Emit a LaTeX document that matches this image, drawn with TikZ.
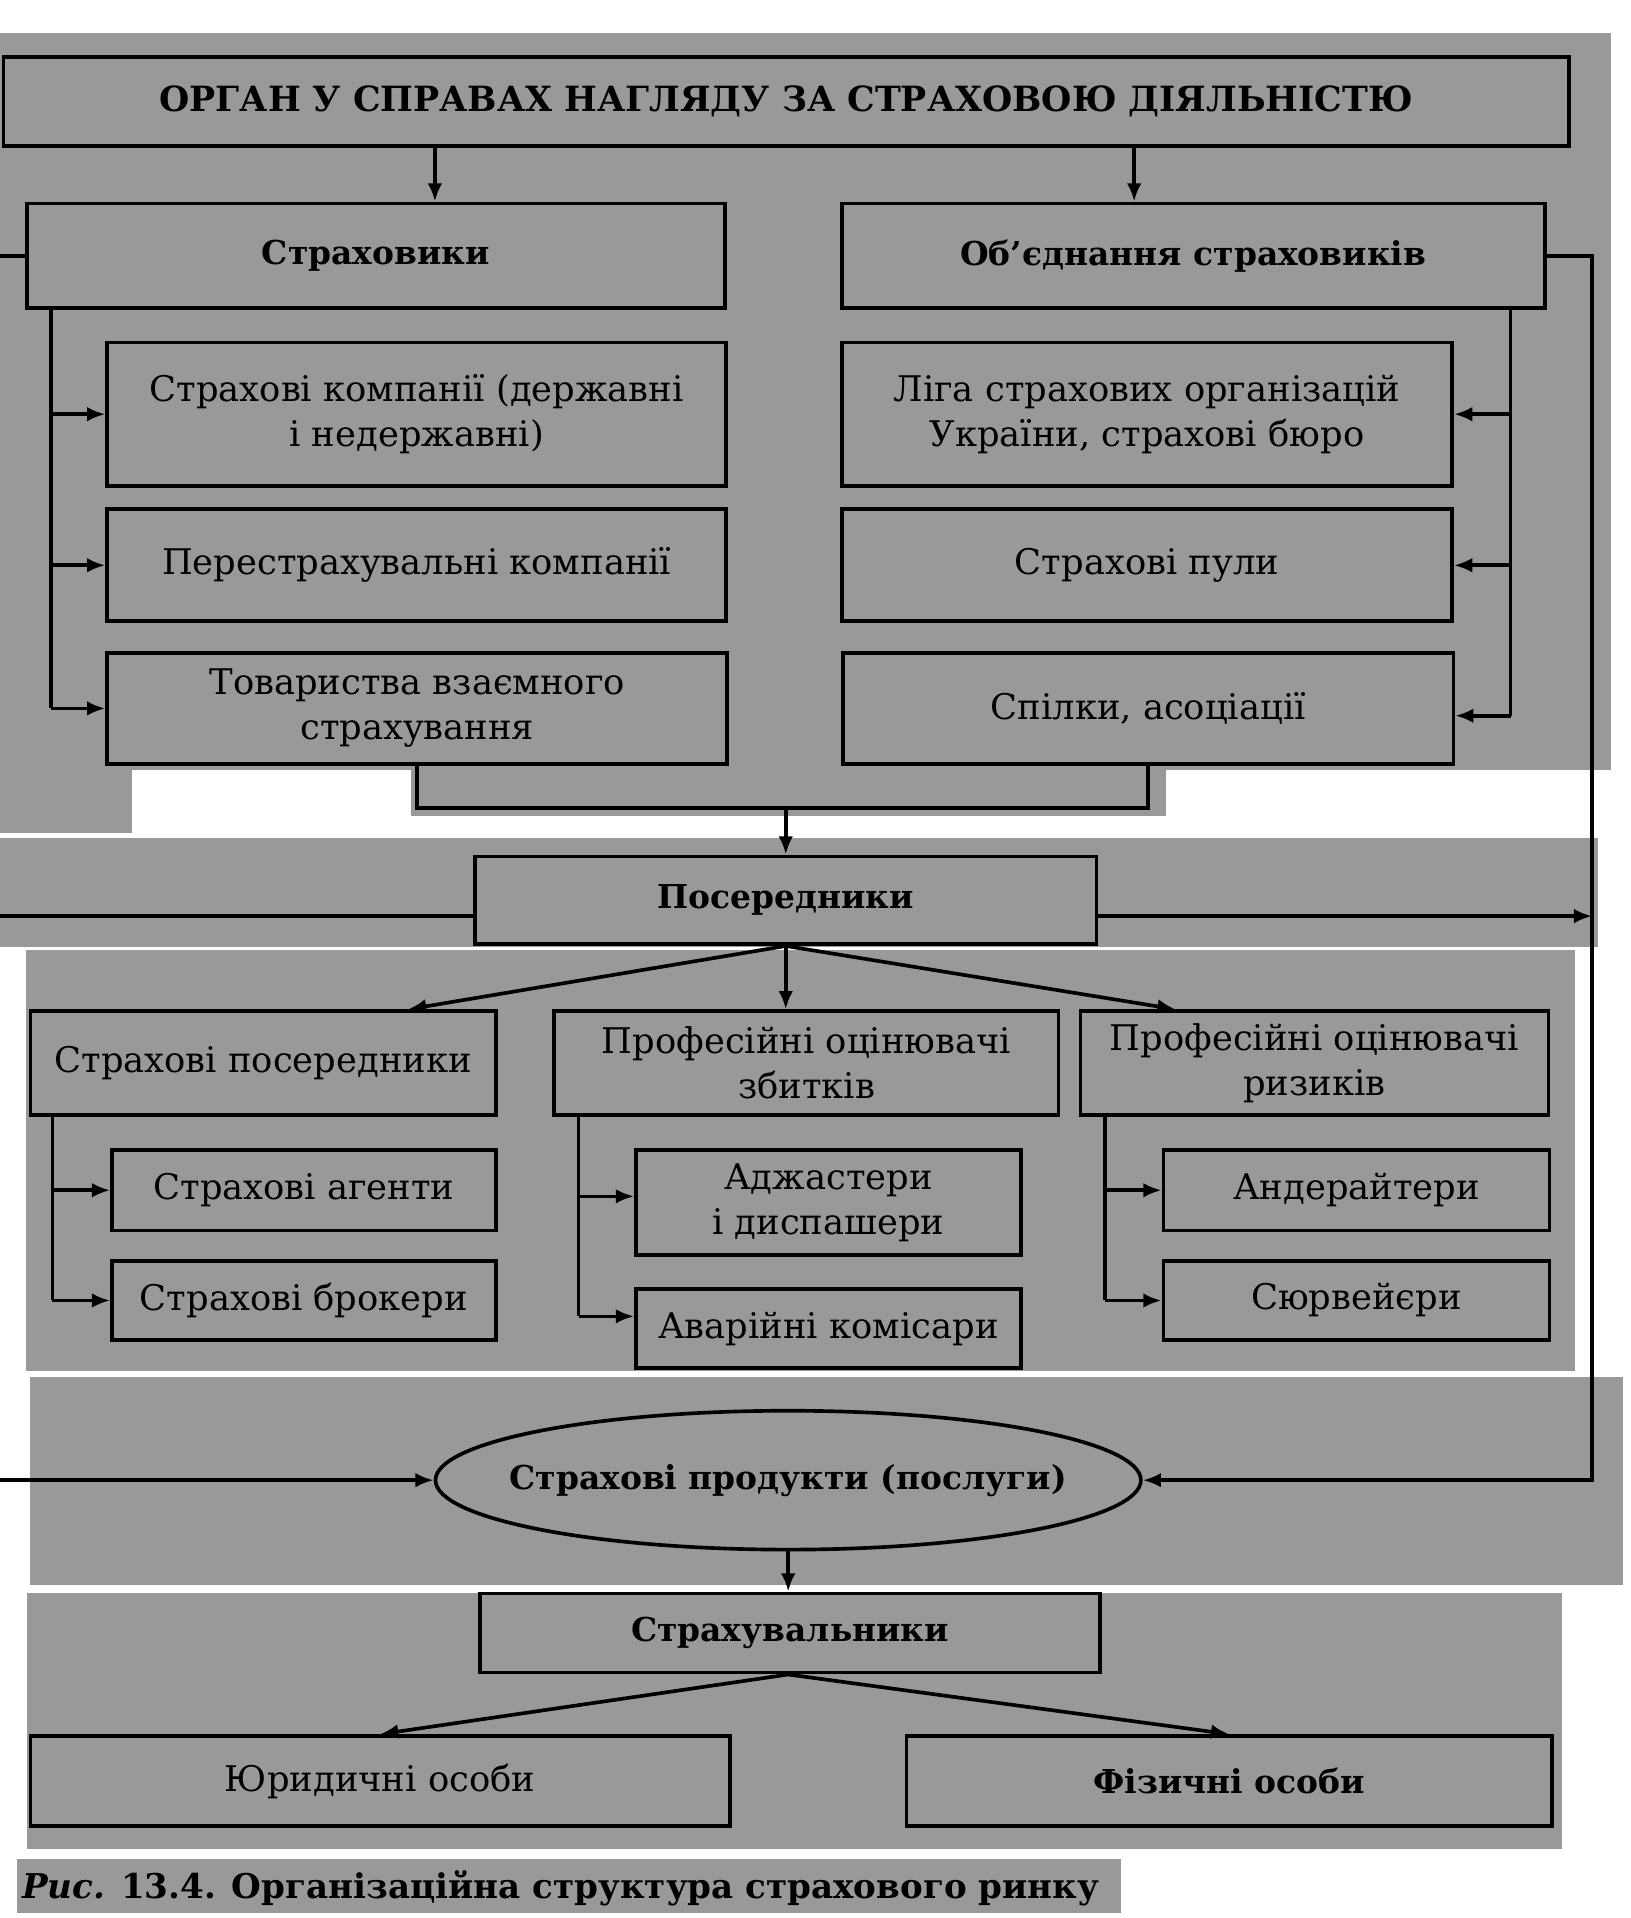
\documentclass[tikz,border=0pt]{standalone}
\usepackage{fontspec}
\setmainfont{DejaVu Serif}
\usetikzlibrary{arrows.meta,shapes.geometric,calc}
\definecolor{scan}{gray}{0.6}
\newcommand\rgf{\fontsize{29}{37}\selectfont}
\newcommand\bdf{\fontsize{27}{37}\selectfont\bfseries}
\newcommand\ttlf{\fontsize{28.5}{32}\selectfont\bfseries}
\newcommand\capf{\fontsize{28}{32}\selectfont\bfseries}
\begin{document}
\begin{tikzpicture}[x=1pt,y=-1pt,
  bx/.style 2 args={draw,line width=3pt,inner sep=0pt,minimum width=#1,minimum height=#2,align=center,font=\rgf},
  hd/.style={font=\bdf},
  ln/.style={line width=3pt},
  ar/.style={line width=3pt,-{Latex[length=15pt,width=12pt]}}]
\useasboundingbox (0,0) rectangle (1338,1574.4);
% scanned grey panels
\fill[scan] (0,27) rectangle (1322,632);
\fill[scan] (0,632) rectangle (108,684);
\fill[scan] (337,632) rectangle (957,670);
\fill[scan] (0,688) rectangle (1312,777);
\fill[scan] (21,780) rectangle (1293,1125);
\fill[scan] (25,1130) rectangle (1332,1301);
\fill[scan] (22,1308) rectangle (1282,1518);
\fill[scan] (14,1526) rectangle (920,1570);
% nodes
\node[bx={1285}{73},font=\ttlf] (top) at (645.5,83.5) {ОРГАН У СПРАВАХ НАГЛЯДУ ЗА СТРАХОВОЮ ДІЯЛЬНІСТЮ};
\node[bx={573}{86},hd] (strah) at (308.5,210) {Страховики};
\node[bx={577}{86},hd] (obyed) at (979.5,210) {Об’єднання страховиків};
\node[bx={508}{118}] (komp) at (342,340) {Страхові компанії (державні\\і недержавні)};
\node[bx={508}{92}] (perestr) at (342,464) {Перестрахувальні компанії};
\node[bx={509}{91}] (tovar) at (342.5,581.5) {Товариства взаємного\\страхування};
\node[bx={501}{118}] (liga) at (941.5,340) {Ліга страхових організацій\\України, страхові бюро};
\node[bx={501}{92}] (puly) at (941.5,464) {Страхові пули};
\node[bx={501}{91}] (spilky) at (942.5,581.5) {Спілки, асоціації};
\node[bx={510}{72},hd] (poser) at (645,739) {Посередники};
\node[bx={382}{85}] (sposer) at (216,872.5) {Страхові посередники};
\node[bx={414}{85}] (zbyt) at (662,872.5) {Професійні оцінювачі\\збитків};
\node[bx={384}{85}] (ryz) at (1079,872.5) {Професійні оцінювачі\\ризиків};
\node[bx={315}{66}] (agent) at (249.5,977) {Страхові агенти};
\node[bx={315}{65}] (broker) at (249.5,1067.5) {Страхові брокери};
\node[bx={316}{86}] (adzh) at (680,987) {Аджастери\\і диспашери};
\node[bx={316}{65}] (avar) at (680,1090.5) {Аварійні комісари};
\node[bx={317}{66}] (ander) at (1113.5,977) {Андерайтери};
\node[bx={317}{65}] (surv) at (1113.5,1067.5) {Сюрвейєри};
\node[draw,ellipse,line width=3pt,inner sep=0pt,minimum width=579,minimum height=114] (ell) at (647,1215) {};
\node[font=\bdf,inner sep=0pt] (elltext) at (ell.center) {Страхові продукти (послуги)};
\node[bx={509}{65},hd] (strahuv) at (648.5,1340.5) {Страхувальники};
\node[bx={574}{74}] (yur) at (312,1462) {Юридичні особи};
\node[bx={530}{74},hd] (fiz) at (1009,1462) {Фізичні особи};
\node[anchor=base west,inner sep=0pt,font=\capf] (cap) at (18,1558) {\textit{Рис.} 13.4. Організаційна структура страхового ринку};
% helper coordinates
\coordinate (xa) at (357,0);
\coordinate (xb) at (931,0);
\coordinate (L) at (-1.6,0);
\coordinate (R) at (1307,0);
\coordinate (LI) at (42,0);
\coordinate (RI) at (1240,0);
\coordinate (J) at (0,663);
\coordinate (t1) at (335,0);
\coordinate (t3) at (965,0);
\coordinate (B1) at (43,0);
\coordinate (B2) at (475,0);
\coordinate (B3) at (907,0);
% connectors
\draw[ar] (top.south -| xa) -- (strah.north -| xa);
\draw[ar] (top.south -| xb) -- (obyed.north -| xb);
\draw[ar] (strah.west) -- (strah.west -| L) -- (ell.west -| L) -- (ell.west);
\draw[ln] ([yshift=-13pt]poser.west) -- ([yshift=-13pt]poser.west -| L);
\draw[ar] (obyed.east) -- (obyed.east -| R) -- (ell.east -| R) -- (ell.east);
\draw[ar] ([yshift=-13pt]poser.east) -- ([yshift=-13pt]poser.east -| R);
\draw[ln] (strah.south -| LI) -- (tovar.west -| LI);
\foreach \n in {komp,perestr,tovar} \draw[ar] (\n.west -| LI) -- (\n.west);
\draw[ln] (obyed.south -| RI) -- ([yshift=-6pt]spilky.east -| RI);
\foreach \n in {liga,puly} \draw[ar] (\n.east -| RI) -- (\n.east);
\draw[ar] ([yshift=-6pt]spilky.east -| RI) -- ([yshift=-6pt]spilky.east);
\draw[ln] (tovar.south) -- (tovar.south |- J) -- (spilky.south |- J) -- (spilky.south);
\draw[ar] (poser.north |- J) -- (poser.north);
\draw[ar] (poser.south) -- (sposer.north -| t1);
\draw[ar] (poser.south) -- (zbyt.north -| poser.south);
\draw[ar] (poser.south) -- (ryz.north -| t3);
\draw[ln] (sposer.south -| B1) -- (broker.west -| B1);
\foreach \n in {agent,broker} \draw[ar] (\n.west -| B1) -- (\n.west);
\draw[ln] (zbyt.south -| B2) -- ([yshift=10pt]avar.west -| B2);
\draw[ar] ([yshift=5pt]adzh.west -| B2) -- ([yshift=5pt]adzh.west);
\draw[ar] ([yshift=10pt]avar.west -| B2) -- ([yshift=10pt]avar.west);
\draw[ln] (ryz.south -| B3) -- (surv.west -| B3);
\foreach \n in {ander,surv} \draw[ar] (\n.west -| B3) -- (\n.west);
\draw[ar] (ell.south) -- (strahuv.north -| ell.south);
\draw[ar] (strahuv.south -| ell.south) -- (yur.north);
\draw[ar] (strahuv.south -| ell.south) -- (fiz.north);
\end{tikzpicture}
\end{document}
